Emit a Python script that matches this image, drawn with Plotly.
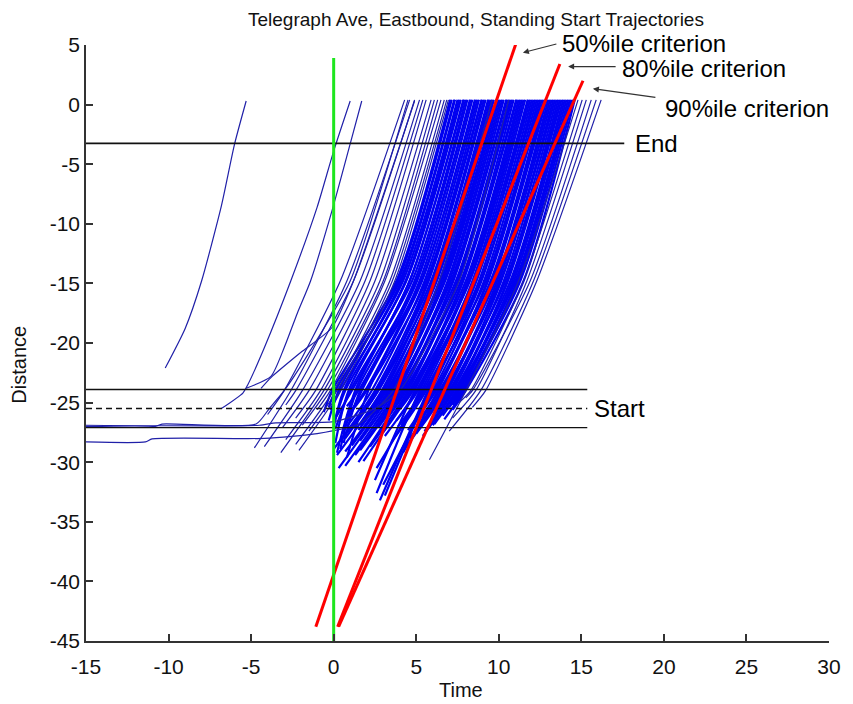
import plotly.graph_objects as go

# ---------------- axes ----------------
x_ticks = [-15, -10, -5, 0, 5, 10, 15, 20, 25, 30]
y_ticks = [5, 0, -5, -10, -15, -20, -25, -30, -35, -40, -45]

# ---------------- reference lines ----------------
end_line_d = -3.25
end_line_t = [-15, 17.6]
start_lines_d = [-23.9, -25.5, -27.1]   # upper, middle (dashed), lower
start_line_t = [-15, 15.36]
green_t = [0, 0]
green_d = [-45, 3.9]

# criterion lines (start point, end point)
crit50_t = [-1.08, 11.16]
crit50_d = [-43.8, 5.6]
crit80_t = [0.24, 13.7]
crit80_d = [-43.8, 3.4]
crit90_t = [0.30, 15.1]
crit90_d = [-43.8, 2.0]

# ---------------- trajectories ----------------
# individually traced trajectories (time, distance)
iso_t = [
    [-10.2, -9.0, -8.0, -6.8, -6.0, -5.3],
    [-6.8, -5.5, -5.2, -4.2, -2.6, -1.0, 0.0, 1.0],
    [-5.3, -3.8, -3.0, -2.2, -1.4, -0.1, 1.0, 1.7],
    [-4.4, -3.8, -2.0, -0.1, 1.2, 4.9],
    [-15, -11.4, -11.0, -4.2, -1.0, 1.5, 3.6, 6.4, 9.6],
    [-15, -10.8, -10.4, -4.7, -3.9, -3.0, -1.8, 1.0, 4.5],
    [-15, -4.5, -3.5, 0.0, 2.5, 4.0, 7.6, 10.6],
]
iso_d = [
    [-22.1, -18.8, -14.8, -8.5, -3.3, 0.3],
    [-25.5, -24.2, -23.5, -20.4, -14.8, -8.6, -3.9, 0.3],
    [-23.8, -22.8, -20.4, -17.5, -14.8, -8.9, -3.3, 0.3],
    [-23.8, -22.9, -20.8, -18.7, -14.8, 0.3],
    [-28.3, -28.3, -28.05, -28.0, -27.6, -26.8, -24.0, -14.8, 0.4],
    [-27.0, -27.0, -26.8, -26.8, -25.5, -24.0, -21.5, -14.8, 0.4],
    [-26.9, -26.9, -26.7, -26.6, -25.5, -24.0, -14.8, 0.4],
]

# waypoint distances used by the bundled trajectories
waypoint_24 = -24.0
waypoint_15 = -14.8
end_d = 0.4

# sparse trajectories left of the main bundle
left_t0 = [-4.0, -4.8, -2.9, -4.2, -3.1, -2.3, -2.9, -3.2, -1.9, -1.0, -2.3, -1.5, -2.1]
left_d0 = [-26.0, -28.8, -25.2, -28.7, -27.1, -26.3, -28.1, -29.2, -26.9, -25.6, -28.5, -27.4, -29.0]
left_t24 = [-3.0, -2.6, -2.3, -1.9, -1.5, -1.1, -0.8, -0.6, -0.4, -0.2, 0.0, 0.2, 0.4]
left_t15 = [0.4, 0.8, 1.2, 1.6, 1.9, 2.2, 2.5, 2.8, 3.0, 3.1, 3.4, 3.55, 3.7]
left_tend = [4.3, 4.6, 4.9, 5.2, 5.4, 5.6, 5.9, 6.1, 6.3, 6.5, 6.7, 6.85, 6.95]

# sparse trajectories right of the main bundle
right_t0 = [5.8, 7.6, 7.2, 8.0, 7.0, 8.4]
right_d0 = [-29.8, -25.0, -26.3, -24.6, -27.4, -25.4]
right_t24 = [8.0, 8.3, 8.6, 8.4, 8.9, 9.2]
right_t15 = [11.2, 11.5, 11.7, 11.9, 12.1, 12.3]
right_tend = [14.8, 15.05, 15.3, 15.6, 15.9, 16.2]

# main (dense) bundle
dense_t0 = [-0.6, -0.3, -0.3, 0.0, -0.2, 0.1, 0.0, 0.1, 0.2, 0.1,
            0.8, 0.4, 0.5, 0.8, 0.6, 0.8, 0.8, 1.1, 0.0, 0.4,
            1.2, 0.2, 0.7, 1.6, 1.8, 0.7, 1.5, 0.3, 2.6, 1.1,
            0.7, 2.5, 1.6, 1.6, 2.7, 1.3, 3.3, 2.2, 1.5, 3.0,
            4.1, 1.8, 3.1, 3.8, 2.5, 2.6, 3.9, 2.6, 3.5, 2.8,
            4.1, 3.0, 5.2, 3.1, 5.0, 4.2, 4.5, 5.6, 4.6, 5.1,
            5.0, 6.3, 4.4, 6.0, 5.5, 6.2, 6.0, 7.0, 5.4, 6.6,
            7.0, 6.1, 7.2, 6.7, 7.3, 7.2]
dense_d0 = [-25.8, -26.5, -25.4, -27.0, -25.6, -28.4, -26.9, -26.3, -29.2, -27.2,
            -25.3, -28.9, -27.6, -26.1, -28.4, -29.6, -27.0, -25.7, -28.9, -28.2,
            -26.7, -29.4, -28.0, -26.9, -26.4, -29.1, -27.3, -30.5, -25.9, -28.6,
            -30.3, -26.8, -28.2, -29.0, -27.1, -29.4, -26.2, -28.7, -30.0, -27.5,
            -25.4, -29.9, -27.8, -26.5, -31.5, -30.5, -27.0, -32.6, -28.3, -33.2,
            -26.9, -31.9, -25.5, -32.8, -26.4, -29.2, -27.3, -25.9, -28.0, -26.6,
            -27.6, -25.3, -28.7, -26.2, -27.4, -25.7, -26.9, -25.1, -27.8, -26.1,
            -25.4, -26.8, -25.2, -26.4, -25.0, -25.6]
dense_t24 = [-0.1, 0.3, 0.1, 0.6, 0.4, 0.9, 0.7, 1.1, 1.3, 1.0,
             1.5, 1.4, 1.7, 1.9, 1.6, 2.1, 2.3, 2.0, 2.5, 2.7,
             2.6, 2.9, 2.7, 3.1, 3.0, 3.3, 3.2, 3.5, 3.6, 3.4,
             3.8, 3.9, 3.7, 4.1, 4.2, 4.0, 4.4, 4.5, 4.3, 4.7,
             4.8, 4.6, 5.0, 5.1, 4.9, 5.3, 5.4, 5.2, 5.6, 5.7,
             5.5, 5.9, 6.0, 5.8, 6.2, 6.3, 6.1, 6.5, 6.6, 6.4,
             6.8, 6.9, 6.7, 7.1, 7.2, 7.0, 7.4, 7.5, 7.3, 7.6,
             7.7, 7.5, 7.8, 7.9, 7.8, 8.0]
dense_t15 = [3.8, 3.9, 4.0, 4.1, 4.2, 4.35, 4.4, 4.6, 4.6, 4.75,
             4.9, 5.0, 5.05, 5.2, 5.3, 5.35, 5.5, 5.6, 5.7, 5.75,
             5.9, 6.0, 6.1, 6.2, 6.25, 6.4, 6.5, 6.6, 6.7, 6.75,
             6.9, 7.0, 7.1, 7.2, 7.25, 7.4, 7.5, 7.55, 7.7, 7.8,
             7.85, 8.0, 8.1, 8.2, 8.25, 8.4, 8.5, 8.6, 8.65, 8.8,
             8.9, 8.95, 9.1, 9.2, 9.3, 9.35, 9.5, 9.6, 9.65, 9.8,
             9.9, 10.0, 10.1, 10.15, 10.3, 10.4, 10.5, 10.55, 10.7, 10.8,
             10.9, 11.0, 11.1, 11.2, 11.3, 11.5]
dense_tend = [7.05, 7.15, 7.3, 7.35, 7.5, 7.6, 7.7, 7.85, 7.9, 8.0,
              8.1, 8.25, 8.3, 8.4, 8.55, 8.6, 8.7, 8.8, 8.95, 9.0,
              9.1, 9.2, 9.35, 9.4, 9.5, 9.6, 9.7, 9.85, 9.9, 10.0,
              10.1, 10.2, 10.3, 10.45, 10.5, 10.6, 10.7, 10.8, 10.9, 11.05,
              11.1, 11.2, 11.3, 11.4, 11.5, 11.6, 11.75, 11.8, 11.9, 12.0,
              12.1, 12.2, 12.3, 12.4, 12.5, 12.6, 12.7, 12.8, 12.9, 13.0,
              13.1, 13.2, 13.3, 13.4, 13.5, 13.6, 13.7, 13.8, 13.9, 14.0,
              14.1, 14.2, 14.3, 14.4, 14.5, 14.6]

# ---------------- text ----------------
title_text = "Telegraph Ave, Eastbound, Standing Start Trajectories"
x_label = "Time"
y_label = "Distance"
label_50 = "50%ile criterion"
label_80 = "80%ile criterion"
label_90 = "90%ile criterion"
label_end = "End"
label_start = "Start"


def bundle(t0s, d0s, t24s, t15s, tends):
    xs, ys = [], []
    for t0, d0, a, b, c in zip(t0s, d0s, t24s, t15s, tends):
        xs += [t0, a, b, c, None]
        ys += [d0, waypoint_24, waypoint_15, end_d, None]
    return xs, ys


def polylines(ts, ds):
    xs, ys = [], []
    for t, d in zip(ts, ds):
        xs += list(t) + [None]
        ys += list(d) + [None]
    return xs, ys


FONT = "Liberation Sans, Arial, Helvetica, sans-serif"
fig = go.Figure()

dx, dy = bundle(dense_t0, dense_d0, dense_t24, dense_t15, dense_tend)
fig.add_trace(go.Scatter(x=dx, y=dy, mode="lines",
                         line=dict(color="#0000f0", width=2.2, shape="spline", smoothing=0.8),
                         hoverinfo="skip"))

sx1, sy1 = bundle(left_t0, left_d0, left_t24, left_t15, left_tend)
sx2, sy2 = bundle(right_t0, right_d0, right_t24, right_t15, right_tend)
ix, iy = polylines(iso_t, iso_d)
fig.add_trace(go.Scatter(x=sx1 + sx2 + ix, y=sy1 + sy2 + iy, mode="lines",
                         line=dict(color="#2020a8", width=1.2, shape="spline", smoothing=0.6),
                         hoverinfo="skip"))

# black reference lines
fig.add_trace(go.Scatter(x=end_line_t, y=[end_line_d, end_line_d], mode="lines",
                         line=dict(color="#111111", width=1.6), hoverinfo="skip"))
for i, dval in enumerate(start_lines_d):
    fig.add_trace(go.Scatter(x=start_line_t, y=[dval, dval], mode="lines",
                             line=dict(color="#111111", width=1.4,
                                       dash="6px,4px" if i == 1 else "solid"),
                             hoverinfo="skip"))

# red criterion lines
for ct, cd in [(crit50_t, crit50_d), (crit80_t, crit80_d), (crit90_t, crit90_d)]:
    fig.add_trace(go.Scatter(x=ct, y=cd, mode="lines",
                             line=dict(color="#ff0000", width=3), hoverinfo="skip"))

# green line
fig.add_trace(go.Scatter(x=green_t, y=green_d, mode="lines",
                         line=dict(color="#1ee61e", width=3), hoverinfo="skip"))

annotations = [
    dict(text=title_text, xref="paper", yref="paper", x=0.525, y=1.0436,
         xanchor="center", yanchor="middle", borderpad=0,
         showarrow=False, font=dict(family=FONT, size=19, color="#111")),
    dict(text=x_label, xref="paper", yref="paper", x=0.505, y=-0.082,
         xanchor="center", yanchor="middle",
         showarrow=False, font=dict(family=FONT, size=20, color="#111")),
    dict(text=y_label, xref="paper", yref="paper", x=-0.0907, y=0.463, textangle=-90,
         xanchor="center", yanchor="middle",
         showarrow=False, font=dict(family=FONT, size=20, color="#111")),
    # arrows
    dict(text="", x=11.46, y=4.36, xref="x", yref="y", ax=35, ay=-9, showarrow=True,
         arrowhead=2, arrowsize=1, arrowwidth=1.2, arrowcolor="#333"),
    dict(text="", x=14.2, y=3.19, xref="x", yref="y", ax=49, ay=0, showarrow=True,
         arrowhead=2, arrowsize=1, arrowwidth=1.2, arrowcolor="#333"),
    dict(text="", x=15.7, y=1.34, xref="x", yref="y", ax=64, ay=9, showarrow=True,
         arrowhead=2, arrowsize=1, arrowwidth=1.2, arrowcolor="#333"),
    dict(text=label_50, x=13.74, y=1.0017, xref="x", yref="paper", xanchor="left",
         yanchor="middle", showarrow=False, borderpad=0,
         font=dict(family=FONT, size=24, color="#000")),
]
for txt, tx, ty in [(label_80, 17.34, 3.02), (label_90, 19.92, -0.34),
                    (label_end, 18.12, -3.27), (label_start, 15.66, -25.5)]:
    annotations.append(dict(text=txt, x=tx, y=ty, xref="x", yref="y", xanchor="left",
                            yanchor="middle", showarrow=False,
                            font=dict(family=FONT, size=24, color="#000")))

# the page body has an 8px margin, so the figure is 8px smaller than the window
fig.update_layout(
    width=845, height=696,
    margin=dict(l=78, r=17, t=37, b=63),
    plot_bgcolor="white", paper_bgcolor="white",
    showlegend=False,
    annotations=annotations,
)
fig.update_xaxes(range=[-15, 30], tickvals=x_ticks, ticktext=[str(v) for v in x_ticks],
                 ticks="inside", ticklen=7, tickwidth=1.5, tickcolor="#333",
                 showline=True, linecolor="#333", linewidth=1.5,
                 showgrid=False, zeroline=False, ticklabelstandoff=6,
                 tickfont=dict(family=FONT, size=21, color="#111"))
fig.update_yaxes(range=[-45, 5], tickvals=y_ticks, ticktext=[str(v) for v in y_ticks],
                 ticks="inside", ticklen=7, tickwidth=1.5, tickcolor="#333",
                 showline=True, linecolor="#333", linewidth=1.5,
                 showgrid=False, zeroline=False,
                 tickfont=dict(family=FONT, size=21, color="#111"))

fig.write_html("out.html")
